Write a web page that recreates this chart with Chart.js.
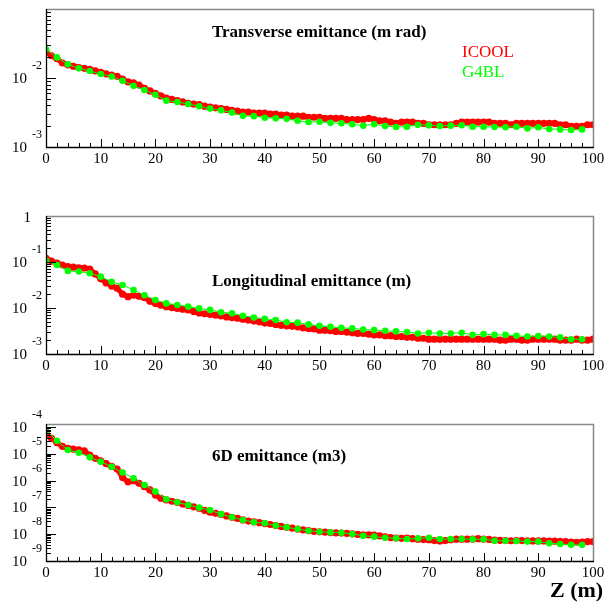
<!DOCTYPE html>
<html><head><meta charset="utf-8">
<script src="https://cdn.jsdelivr.net/npm/chart.js@4.4.1/dist/chart.umd.min.js"></script>
<style>
html,body{margin:0;padding:0;background:#fff;}
body{width:606px;height:604px;position:relative;overflow:hidden;font-family:"Liberation Serif","Times New Roman",serif;}
canvas{position:absolute;left:0;}
.t{position:absolute;white-space:nowrap;line-height:1;}
</style></head><body>
<canvas id="c1" width="606" height="200" style="top:0px"></canvas>
<canvas id="c2" width="606" height="200" style="top:195px"></canvas>
<canvas id="c3" width="606" height="200" style="top:395px"></canvas>
<div class="t" style="left:212px;top:23px;font-size:17px;font-weight:bold;">Transverse emittance (m rad)</div>
<div class="t" style="left:462px;top:43px;font-size:17px;color:#ff0000;">ICOOL</div>
<div class="t" style="left:462px;top:63px;font-size:17px;color:#00ff00;">G4BL</div>
<div class="t" style="left:212px;top:272px;font-size:17px;font-weight:bold;">Longitudinal emittance (m)</div>
<div class="t" style="left:212px;top:447px;font-size:17px;font-weight:bold;">6D emittance (m3)</div>
<div class="t" style="left:550px;top:579px;font-size:22px;font-weight:bold;">Z (m)</div>
<script>
// ---- data ----
const zIcool = [0,1,2,3,4,5,6,7,8,9,10,11,12,13,14,15,16,17,18,19,20,21,22,23,24,25,26,27,28,29,30,31,32,33,34,35,36,37,38,39,40,41,42,43,44,45,46,47,48,49,50,51,52,53,54,55,56,57,58,59,60,61,62,63,64,65,66,67,68,69,70,71,72,73,74,75,76,77,78,79,80,81,82,83,84,85,86,87,88,89,90,91,92,93,94,95,96,97,98,99,100];
const zG4bl = [0,2,4,6,8,10,12,14,16,18,20,22,24,26,28,30,32,34,36,38,40,42,44,46,48,50,52,54,56,58,60,62,64,66,68,70,72,74,76,78,80,82,84,86,88,90,92,94,96,98];

const transIcool = [0.024,0.021,0.019,0.0165,0.0155,0.0148,0.0142,0.0138,0.0133,0.0127,0.0121,0.0115,0.011,0.0106,0.0096,0.0088,0.0085,0.0079,0.0071,0.0065,0.006,0.0055,0.0051,0.0049,0.0047,0.0045,0.0043,0.0042,0.0041,0.0039,0.0038,0.0037,0.0036,0.0035,0.0034,0.0033,0.0032,0.0032,0.0031,0.0031,0.0031,0.003,0.003,0.0029,0.0029,0.0028,0.0028,0.0028,0.0027,0.0027,0.0027,0.0026,0.0026,0.0026,0.0026,0.0025,0.0025,0.0025,0.0025,0.0026,0.0025,0.0024,0.0024,0.0023,0.0022,0.0023,0.0023,0.0023,0.0022,0.0022,0.0021,0.0021,0.0021,0.0021,0.0021,0.0022,0.0023,0.0023,0.0023,0.0023,0.0023,0.0023,0.0022,0.0022,0.0022,0.0021,0.0022,0.0022,0.0022,0.0022,0.0022,0.0022,0.0022,0.0022,0.0021,0.0021,0.002,0.002,0.002,0.0021,0.0021];
const transG4bl = [0.026,0.0199,0.0158,0.0138,0.0126,0.0114,0.0105,0.0091,0.0077,0.0067,0.0057,0.0047,0.0045,0.0042,0.0039,0.0036,0.0034,0.00315,0.00283,0.0028,0.00266,0.0026,0.00256,0.0024,0.0023,0.00232,0.00224,0.0022,0.00214,0.00204,0.00214,0.00202,0.00195,0.00197,0.0021,0.00206,0.00202,0.00204,0.00207,0.00197,0.00197,0.00195,0.00193,0.00197,0.00186,0.00193,0.00182,0.0018,0.00176,0.0018];

const longIcool = [0.12,0.105,0.095,0.086,0.079,0.077,0.075,0.074,0.07,0.055,0.043,0.035,0.03,0.027,0.02,0.0176,0.019,0.018,0.0167,0.014,0.0126,0.0115,0.0107,0.0102,0.0098,0.0094,0.0091,0.0084,0.0078,0.0075,0.0073,0.007,0.0067,0.0064,0.0062,0.006,0.0057,0.0055,0.0052,0.005,0.0047,0.0046,0.0044,0.0042,0.0041,0.004,0.0039,0.0037,0.0036,0.0035,0.0033,0.0033,0.0032,0.0031,0.0031,0.003,0.0029,0.0028,0.0028,0.0027,0.0026,0.0026,0.0025,0.0025,0.0024,0.0024,0.0023,0.0023,0.0022,0.0022,0.0021,0.0021,0.0021,0.0021,0.0021,0.0021,0.0021,0.0021,0.0021,0.0021,0.0021,0.0021,0.0021,0.002,0.002,0.0021,0.0021,0.002,0.002,0.0021,0.0021,0.0021,0.0021,0.0021,0.002,0.002,0.002,0.0021,0.002,0.002,0.0021];
const longG4bl = [0.107,0.086,0.064,0.062,0.057,0.048,0.037,0.0316,0.0246,0.019,0.0149,0.0126,0.0116,0.0107,0.0098,0.0091,0.0081,0.0077,0.0068,0.0062,0.0058,0.0055,0.0049,0.0048,0.0044,0.0041,0.0039,0.0037,0.0036,0.0034,0.0033,0.0032,0.0031,0.003,0.0028,0.0029,0.0028,0.0028,0.0029,0.0026,0.0027,0.0026,0.0026,0.0025,0.0024,0.00245,0.0024,0.0023,0.0021,0.0021];

const sixdIcool = [6e-5,3.8e-5,2.6e-5,1.9e-5,1.6e-5,1.5e-5,1.4e-5,1.3e-5,9e-6,6.8e-6,5.5e-6,4.3e-6,3.4e-6,2.7e-6,1.3e-6,9e-7,1e-6,8e-7,5.9e-7,4.5e-7,2.9e-7,2.2e-7,1.9e-7,1.7e-7,1.55e-7,1.35e-7,1.2e-7,1.05e-7,9.3e-8,7.8e-8,6.6e-8,6e-8,5.5e-8,4.8e-8,4.3e-8,3.9e-8,3.4e-8,3.1e-8,2.9e-8,2.7e-8,2.5e-8,2.3e-8,2.1e-8,1.95e-8,1.8e-8,1.7e-8,1.55e-8,1.45e-8,1.35e-8,1.28e-8,1.23e-8,1.2e-8,1.15e-8,1.12e-8,1.1e-8,1.08e-8,1.03e-8,9.8e-9,9.5e-9,9.4e-9,9.3e-9,8.6e-9,8e-9,7.5e-9,7.2e-9,7e-9,7.2e-9,6.8e-9,6.5e-9,6.3e-9,6.2e-9,5.8e-9,5.6e-9,5.8e-9,6.2e-9,6.5e-9,6.5e-9,6.5e-9,6.6e-9,6.8e-9,6.6e-9,6.4e-9,6e-9,5.9e-9,5.8e-9,5.7e-9,5.8e-9,5.8e-9,5.7e-9,5.6e-9,5.6e-9,5.6e-9,5.5e-9,5.5e-9,5.4e-9,5.3e-9,5.1e-9,5e-9,5.1e-9,5.3e-9,5.3e-9];
const sixdG4bl = [7.7e-5,3.1e-5,1.4e-5,1.1e-5,7.4e-6,5.1e-6,3.3e-6,2.0e-6,1.23e-6,6.9e-7,3.9e-7,2.0e-7,1.55e-7,1.23e-7,9.8e-8,7.9e-8,5.6e-8,4.3e-8,3.4e-8,2.8e-8,2.55e-8,2.1e-8,1.8e-8,1.56e-8,1.35e-8,1.23e-8,1.17e-8,1.14e-8,1.02e-8,8.8e-9,8.1e-9,7.4e-9,7e-9,6.6e-9,7e-9,7.4e-9,6.6e-9,6.6e-9,6.6e-9,6.5e-9,6.5e-9,5.7e-9,5.7e-9,5.6e-9,5.3e-9,5.3e-9,4.6e-9,4.3e-9,4.0e-9,4.0e-9];

const xTickLabels = [0,10,20,30,40,50,60,70,80,90,100];
const yLabelExp1 = [-2,-3];
const yLabelExp2 = [0,-1,-2,-3];
const yLabelExp3 = [-4,-5,-6,-7,-8,-9];

// ---- drawing ----
const pts = (xs, ys) => xs.map((x, i) => ({x: x, y: ys[i]}));

const rootStyle = {
  id: 'rootStyle',
  afterDraw(chart, args, opts) {
    const ctx = chart.ctx, a = chart.chartArea, xs = chart.scales.x, ys = chart.scales.y;
    ctx.save();
    ctx.strokeStyle = '#000'; ctx.lineWidth = 1;
    ctx.beginPath();
    for (let v = 0; v <= 100; v += 2) {
      const px = Math.round(xs.getPixelForValue(v)) + 0.5;
      const len = v % 10 === 0 ? 8 : 4;
      ctx.moveTo(px, a.bottom); ctx.lineTo(px, a.bottom - len);
    }
    const lo = Math.floor(Math.log10(ys.min)) , hi = Math.ceil(Math.log10(ys.max));
    for (let e = lo; e <= hi; e++) for (let m = 1; m <= 9; m++) {
      const v = m * Math.pow(10, e);
      if (v < ys.min * 0.999 || v > ys.max * 1.001) continue;
      const py = Math.round(ys.getPixelForValue(v)) + 0.5;
      const len = m === 1 ? 10 : 5;
      ctx.moveTo(a.left, py); ctx.lineTo(a.left + len, py);
    }
    ctx.stroke();
    // frame
    ctx.strokeStyle = '#888'; ctx.lineWidth = 1.5;
    ctx.beginPath();
    ctx.moveTo(Math.round(a.left), Math.round(a.top) + 0.5);
    ctx.lineTo(Math.round(a.right) + 0.5, Math.round(a.top) + 0.5);
    ctx.lineTo(Math.round(a.right) + 0.5, Math.round(a.bottom));
    ctx.stroke();
    ctx.strokeStyle = '#000'; ctx.lineWidth = 1.3;
    ctx.beginPath();
    ctx.moveTo(Math.round(a.left) + 0.5, Math.round(a.top));
    ctx.lineTo(Math.round(a.left) + 0.5, Math.round(a.bottom) + 0.5);
    ctx.lineTo(Math.round(a.right) + 1, Math.round(a.bottom) + 0.5);
    ctx.stroke();
    // y labels
    ctx.fillStyle = '#000';
    ctx.textBaseline = 'middle';
    opts.exps.forEach(e => {
      const py = ys.getPixelForValue(Math.pow(10, e));
      if (e === 0) {
        ctx.font = '15px "Liberation Serif"'; ctx.textAlign = 'right';
        ctx.fillText('1', 31, py + 2);
        return;
      }
      ctx.font = '15px "Liberation Serif"'; ctx.textAlign = 'right';
      ctx.fillText('10', 27, py + 1);
      ctx.font = '12px "Liberation Serif"'; ctx.textAlign = 'left';
      ctx.fillText(String(e), 32, py - 12);
    });
    ctx.restore();
  }
};

function makeChart(id, icool, g4bl, ymin, ymax, padTop, xHeight, exps) {
  return new Chart(document.getElementById(id), {
    type: 'line',
    data: {
      datasets: [
        { label: 'G4BL', data: pts(zG4bl, g4bl), borderColor: '#00ff00', backgroundColor: '#00ff00',
          borderWidth: 1, pointRadius: 3.3, pointBorderWidth: 0, tension: 0 },
        { label: 'ICOOL', data: pts(zIcool, icool), borderColor: '#ff0000', backgroundColor: '#ff0000',
          borderWidth: 5, pointRadius: 3.6, pointBorderWidth: 0, tension: 0 }
      ]
    },
    options: {
      responsive: false, animation: false, devicePixelRatio: 1,
      layout: { padding: { top: padTop, right: 13, left: 0, bottom: 0 } },
      plugins: { legend: { display: false }, tooltip: { enabled: false }, rootStyle: { exps: exps } },
      scales: {
        x: {
          type: 'linear', min: 0, max: 100,
          grid: { display: false, drawTicks: false, tickLength: 0 }, border: { display: false },
          afterBuildTicks: s => { s.ticks = xTickLabels.map(v => ({ value: v })); },
          afterFit: s => { s.height = xHeight; s.paddingLeft = 0; s.paddingRight = 0; },
          ticks: { autoSkip: false, maxRotation: 0, padding: 3, color: '#000',
                   font: { family: '"Liberation Serif"', size: 15 } }
        },
        y: {
          type: 'logarithmic', min: ymin, max: ymax,
          grid: { display: false, drawTicks: false }, border: { display: false },
          ticks: { display: false },
          afterFit: s => { s.width = 46; s.paddingTop = 0; s.paddingBottom = 0; }
        }
      }
    },
    plugins: [rootStyle]
  });
}

makeChart('c1', transIcool, transG4bl, 1e-3, 1e-1, 9, 53, yLabelExp1);
makeChart('c2', longIcool, longG4bl, 1e-3, 1, 21, 41, yLabelExp2);
makeChart('c3', sixdIcool, sixdG4bl, 1e-9, 1.3e-4, 29, 34, yLabelExp3);
</script>
</body></html>
